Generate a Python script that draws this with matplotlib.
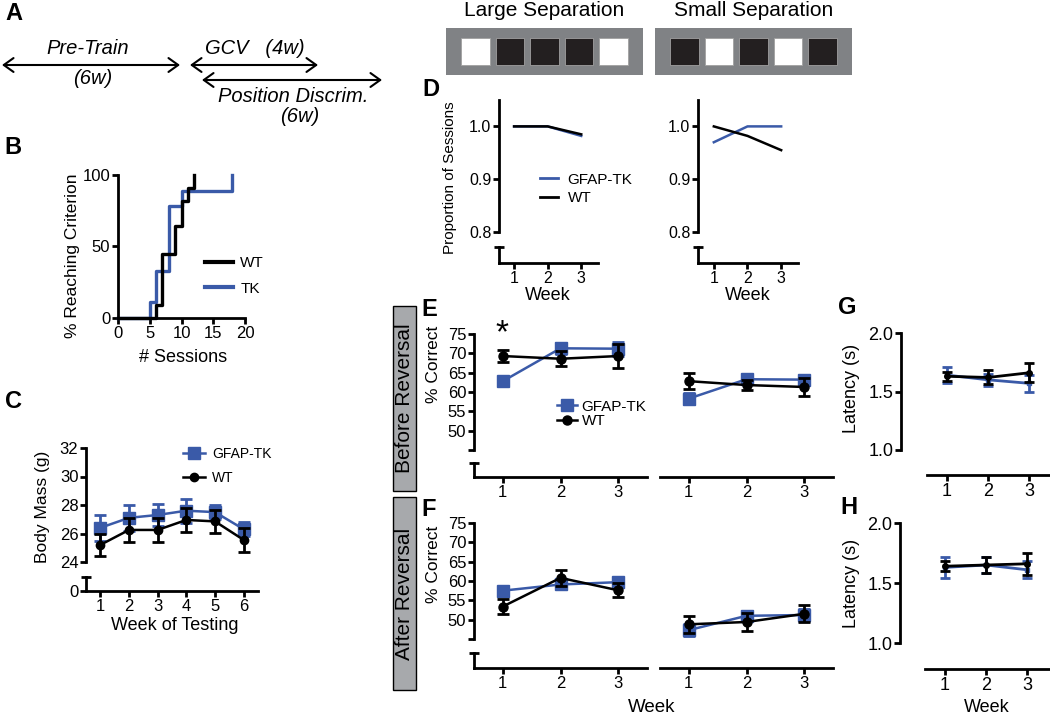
import matplotlib
matplotlib.use("Agg")
import matplotlib.pyplot as plt
from matplotlib.patches import Rectangle, FancyArrowPatch
from matplotlib.lines import Line2D

plt.rcParams.update({
    "font.family": ["Liberation Sans", "DejaVu Sans"],
    "font.size": 11,
    "axes.linewidth": 2.0,
    "xtick.major.width": 2.0,
    "ytick.major.width": 2.0,
    "xtick.major.size": 4,
    "ytick.major.size": 4,
    "xtick.major.pad": 2,
    "ytick.major.pad": 1.5,
})

W, H = 1050, 717
BLUE = "#3a5aa8"
BLACK = "#000000"

# ---- data ----
# B: cumulative % of mice reaching criterion vs sessions
b_wt_sessions = [0, 6, 7, 9, 10, 11, 12]
b_wt_pct = [0, 9, 45, 64, 82, 91, 100]
b_tk_sessions = [0, 5, 6, 8, 10, 18]
b_tk_pct = [0, 11, 33, 78, 89, 100]

# C: body mass (g), mean and sem
c_weeks = [1, 2, 3, 4, 5, 6]
c_tk_mean = [26.4, 27.1, 27.3, 27.6, 27.5, 26.3]
c_tk_sem = [0.9, 0.9, 0.8, 0.85, 0.5, 0.5]
c_wt_mean = [25.2, 26.25, 26.25, 26.95, 26.85, 25.55]
c_wt_sem = [0.8, 0.85, 0.85, 0.85, 0.8, 0.85]

weeks = [1, 2, 3]

# stimulus displays (1 = lit square)
large_sep_lit = [1, 0, 0, 0, 1]
small_sep_lit = [0, 1, 0, 1, 0]

# D: proportion of sessions completed
d_large_tk = [1.0, 1.0, 0.982]
d_large_wt = [1.0, 1.0, 0.985]
d_small_tk = [0.97, 1.0, 1.0]
d_small_wt = [1.0, 0.982, 0.955]

# E: % correct before reversal
e_large_tk = [62.8, 71.3, 71.2]
e_large_tk_sem = [0.8, 1.4, 1.8]
e_large_wt = [69.3, 68.6, 69.3]
e_large_wt_sem = [1.5, 2.0, 3.0]
e_small_tk = [58.3, 63.3, 63.2]
e_small_tk_sem = [1.5, 1.0, 1.0]
e_small_wt = [62.8, 61.8, 61.3]
e_small_wt_sem = [2.0, 1.3, 2.4]

# F: % correct after reversal
f_large_tk = [57.5, 59.1, 59.7]
f_large_tk_sem = [1.0, 0.8, 0.8]
f_large_wt = [53.4, 60.8, 57.6]
f_large_wt_sem = [2.0, 2.0, 1.8]
f_small_tk = [47.3, 51.0, 51.2]
f_small_tk_sem = [1.5, 1.2, 1.5]
f_small_wt = [48.8, 49.4, 51.5]
f_small_wt_sem = [2.2, 2.3, 2.2]

# G / H: latency (s)
g_tk = [1.64, 1.60, 1.57]
g_tk_sem = [0.07, 0.05, 0.07]
g_wt = [1.63, 1.62, 1.66]
g_wt_sem = [0.04, 0.06, 0.08]
h_tk = [1.63, 1.65, 1.61]
h_tk_sem = [0.09, 0.07, 0.07]
h_wt = [1.64, 1.65, 1.66]
h_wt_sem = [0.04, 0.07, 0.09]

fig = plt.figure(figsize=(W / 100, H / 100), dpi=100)


def fig_xy(x, y):
    return x / W, 1 - y / H


def add_ax(l, t, r, b):
    ax = fig.add_axes([l / W, 1 - b / H, (r - l) / W, (b - t) / H])
    ax.patch.set_alpha(0)
    return ax


def clean(ax, left=True, bottom=True):
    ax.spines["top"].set_visible(False)
    ax.spines["right"].set_visible(False)
    ax.spines["left"].set_visible(left)
    ax.spines["bottom"].set_visible(bottom)
    if not left:
        ax.tick_params(left=False, labelleft=False)
    if not bottom:
        ax.tick_params(bottom=False, labelbottom=False)


def broken(l, r, t_up, b_up, t_lo, b_lo, xlim, ylim, yticks, yticklabels,
           left=True, zero_label=False, fs=12):
    up = add_ax(l, t_up, r, b_up)
    lo = add_ax(l, t_lo, r, b_lo)
    clean(up, left=left, bottom=False)
    clean(lo, left=left, bottom=True)
    up.set_xlim(xlim)
    lo.set_xlim(xlim)
    up.set_ylim(ylim)
    lo.set_ylim(0, 1)
    if left:
        up.set_yticks(yticks)
        up.set_yticklabels(yticklabels)
        if zero_label:
            lo.set_yticks([0])
            lo.set_yticklabels(["0"])
        else:
            lo.set_yticks([])
        lo.set_yticks([1], minor=True)
        lo.tick_params(axis="y", which="minor", direction="inout", length=7, width=2)
    up.tick_params(labelsize=fs)
    lo.tick_params(labelsize=fs)
    return up, lo


def group_plot(ax, x, tk, tk_err, wt, wt_err, tk_ms=9, wt_ms=6.5, cap=4.5):
    ax.errorbar(x, tk, yerr=tk_err, color=BLUE, marker="s", ms=tk_ms, lw=1.8,
                elinewidth=2, capsize=cap, capthick=2, clip_on=False, zorder=3)
    ax.errorbar(x, wt, yerr=wt_err, color=BLACK, marker="o", ms=wt_ms, lw=1.8,
                elinewidth=2, capsize=cap, capthick=2, clip_on=False, zorder=4)


def legend_at(ax, handles, labels, x, y, fs, hl, htp, ls):
    ax.legend(handles, labels, loc="center left", bbox_to_anchor=fig_xy(x, y),
              bbox_transform=fig.transFigure, frameon=False, fontsize=fs,
              handlelength=hl, handletextpad=htp, labelspacing=ls,
              borderpad=0, borderaxespad=0)


def letter(x, y, s):
    fig.text(*fig_xy(x, y), s, fontsize=17, fontweight="bold", ha="center", va="center")


def vlabel(x, y, s, fs):
    fig.text(*fig_xy(x, y), s, fontsize=fs, rotation=90, ha="center", va="center")


def hlabel(x, y, s, fs, **kw):
    fig.text(*fig_xy(x, y), s, fontsize=fs, ha="center", va="center", **kw)


# ---- A: timeline ----
def arrow(x0, x1, y):
    fig.add_artist(FancyArrowPatch(fig_xy(x0, y), fig_xy(x1, y), transform=fig.transFigure,
                                   arrowstyle="<->,head_length=0.7,head_width=0.5",
                                   mutation_scale=10, lw=1.5, color="black",
                                   shrinkA=0, shrinkB=0))


letter(14, 14, "A")
arrow(2, 180, 65)
hlabel(88, 48, "Pre-Train", 14.5, style="italic")
hlabel(93, 78, "(6w)", 14.5, style="italic")
arrow(190, 318, 65)
hlabel(255, 48, "GCV   (4w)", 14.5, style="italic")
arrow(202, 382, 80)
hlabel(293, 96, "Position Discrim.", 14.5, style="italic")
hlabel(300, 117, "(6w)", 14.5, style="italic")

# ---- B ----
letter(13, 148, "B")
axB = add_ax(118, 175, 245, 318)
clean(axB)
axB.step(b_tk_sessions, b_tk_pct, where="post", color=BLUE, lw=2.4, clip_on=False)
axB.step(b_wt_sessions, b_wt_pct, where="post", color=BLACK, lw=2.4, clip_on=False)
axB.set_xlim(0, 20)
axB.set_ylim(0, 100)
axB.set_xticks([0, 5, 10, 15, 20])
axB.set_yticks([0, 50, 100])
axB.tick_params(labelsize=12)
vlabel(72, 256, "% Reaching Criterion", 12.5)
hlabel(183, 357, "# Sessions", 13)
legend_at(axB, [Line2D([], [], color=BLACK, lw=3), Line2D([], [], color=BLUE, lw=3)],
          ["WT", "TK"], 205, 276, 11, 1.8, 0.5, 0.75)

# ---- C ----
letter(13, 402, "C")
upC, loC = broken(86, 258, 448, 562, 577, 591, (0.5, 6.5), (24, 32),
                  [24, 26, 28, 30, 32], ["24", "26", "28", "30", "32"], zero_label=True)
group_plot(upC, c_weeks, c_tk_mean, c_tk_sem, c_wt_mean, c_wt_sem, tk_ms=8.5, wt_ms=6)
loC.set_xticks(c_weeks)
vlabel(43, 507, "Body Mass (g)", 12.5)
hlabel(175, 626, "Week of Testing", 13)
legend_at(upC, [Line2D([], [], color=BLUE, marker="s", ms=8.5, lw=1.8),
                Line2D([], [], color=BLACK, marker="o", ms=6, lw=1.8)],
          ["GFAP-TK", "WT"], 183, 466, 10, 1.6, 0.5, 0.7)


# ---- stimuli ----
def stimulus(l, r, lit, title):
    ax = add_ax(l, 28, r, 75)
    ax.patch.set_alpha(1)
    ax.set_facecolor("#808285")
    ax.set_xlim(-0.855, len(lit) - 1 + 0.855)
    ax.set_ylim(0, 1)
    ax.bar(range(len(lit)), [0.574] * len(lit), width=0.84, bottom=0.213,
           color=["white" if v else "#231f20" for v in lit], edgecolor="#a0a0a0", lw=0.6)
    ax.set_xticks([])
    ax.set_yticks([])
    for s in ax.spines.values():
        s.set_visible(False)
    hlabel((l + r) / 2, 10, title, 15)


stimulus(446, 643, large_sep_lit, "Large Separation")
stimulus(655, 852, small_sep_lit, "Small Separation")

# ---- D ----
letter(431, 90, "D")
d_ticks = [0.8, 0.9, 1.0]
d_labels = ["0.8", "0.9", "1.0"]
upD1, loD1 = broken(499, 598, 100, 232, 247, 263, (0.55, 3.5), (0.8, 1.05), d_ticks, d_labels, fs=11.5)
upD1.plot(weeks, d_large_tk, color=BLUE, lw=1.8)
upD1.plot(weeks, d_large_wt, color=BLACK, lw=1.8)
loD1.set_xticks(weeks)
upD2, loD2 = broken(698, 798, 100, 232, 247, 263, (0.53, 3.5), (0.8, 1.05), d_ticks, d_labels, fs=11.5)
upD2.plot(weeks, d_small_tk, color=BLUE, lw=1.8)
upD2.plot(weeks, d_small_wt, color=BLACK, lw=1.8)
loD2.set_xticks(weeks)
vlabel(450, 178, "Proportion of Sessions", 11)
hlabel(548, 296, "Week", 13)
hlabel(748, 296, "Week", 13)
legend_at(upD1, [Line2D([], [], color=BLUE, lw=2), Line2D([], [], color=BLACK, lw=2)],
          ["GFAP-TK", "WT"], 540, 189, 11, 1.2, 0.6, 0.3)

# ---- E / F ----
pc_ticks = [45, 50, 55, 60, 65, 70, 75]
pc_labels = ["", "50", "55", "60", "65", "70", "75"]

letter(429, 310, "E")
upE1, loE1 = broken(474, 647, 334, 450, 463, 477, (0.5, 3.5), (45, 75), pc_ticks, pc_labels)
group_plot(upE1, weeks, e_large_tk, e_large_tk_sem, e_large_wt, e_large_wt_sem)
loE1.set_xticks(weeks)
upE2, loE2 = broken(660, 833, 334, 450, 463, 477, (0.5, 3.5), (45, 75), pc_ticks, pc_labels, left=False)
group_plot(upE2, weeks, e_small_tk, e_small_tk_sem, e_small_wt, e_small_wt_sem)
loE2.set_xticks(weeks)
hlabel(502, 334, "*", 24)
vlabel(434, 364, "% Correct", 12.5)
legend_at(upE1, [Line2D([], [], color=BLUE, marker="s", ms=9, lw=1.8),
                 Line2D([], [], color=BLACK, marker="o", ms=6.5, lw=1.8)],
          ["GFAP-TK", "WT"], 557, 414, 11, 1.3, 0.3, 0.05)

letter(429, 510, "F")
upF1, loF1 = broken(474, 647, 523, 639, 653, 668, (0.5, 3.5), (45, 75), pc_ticks, pc_labels)
group_plot(upF1, weeks, f_large_tk, f_large_tk_sem, f_large_wt, f_large_wt_sem)
loF1.set_xticks(weeks)
upF2, loF2 = broken(660, 833, 523, 639, 653, 668, (0.5, 3.5), (45, 75), pc_ticks, pc_labels, left=False)
group_plot(upF2, weeks, f_small_tk, f_small_tk_sem, f_small_wt, f_small_wt_sem)
loF2.set_xticks(weeks)
vlabel(434, 564, "% Correct", 12.5)
hlabel(652, 708, "Week", 13.5)

# reversal tags
for top, bot, txt in [(306, 491, "Before Reversal"), (497, 690, "After Reversal")]:
    fig.add_artist(Rectangle(fig_xy(393, bot), 23 / W, (bot - top) / H, transform=fig.transFigure,
                             facecolor="#a7a9ac", edgecolor="black", lw=1))
    vlabel(404.5, (top + bot) / 2, txt, 15)


# ---- G / H ----
def latency_ax(l, t, r, b, y1, y2, x1, tk, tk_err, wt, wt_err):
    ax = add_ax(l, t, r, b)
    clean(ax)
    per_unit = y1 - y2  # px per 1.0 s
    x_right = 3 + (r - x1 - 82) / 41
    ax.set_ylim(1.0 - (b - y1) / per_unit, 2.0)
    ax.set_xlim(1 - (x1 - l) / 41, x_right)
    ax.spines["left"].set_bounds(1.0, 2.0)
    ax.spines["bottom"].set_bounds(0.51, x_right)
    ax.set_yticks([1.0, 1.5, 2.0])
    ax.set_yticklabels(["1.0", "1.5", "2.0"])
    ax.set_xticks(weeks)
    ax.tick_params(labelsize=13)
    ax.errorbar(weeks, tk, yerr=tk_err, color=BLUE, marker="s", ms=3, lw=2,
                elinewidth=2, capsize=3.5, capthick=2, clip_on=False, zorder=3)
    ax.errorbar(weeks, wt, yerr=wt_err, color=BLACK, marker="o", ms=4, lw=2,
                elinewidth=2, capsize=3.5, capthick=2, clip_on=False, zorder=4)
    return ax


letter(847, 308, "G")
latency_ax(901, 333, 1050, 475, 450, 333, 947, g_tk, g_tk_sem, g_wt, g_wt_sem)
vlabel(852, 388, "Latency (s)", 13)

letter(849, 507, "H")
latency_ax(900, 523, 1050, 669, 643, 523, 945, h_tk, h_tk_sem, h_wt, h_wt_sem)
vlabel(852, 583, "Latency (s)", 13)
hlabel(987, 707, "Week", 13)

fig.savefig("out.png", dpi=100)
